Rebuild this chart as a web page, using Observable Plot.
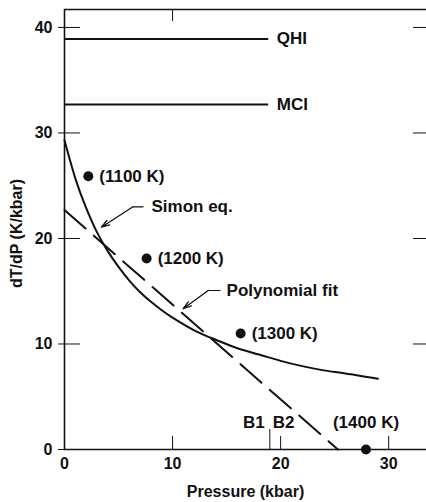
<!DOCTYPE html>
<html><head><meta charset="utf-8">
<script src="https://cdn.jsdelivr.net/npm/d3@7"></script>
<script src="https://cdn.jsdelivr.net/npm/@observablehq/plot@0.6"></script>
<style>
html,body{margin:0;padding:0;background:#fff;}
#chart svg{display:block;}
</style></head><body><div id="chart"></div>
<script>
// ---- data ----
const xTicks = [0, 10, 20, 30];
const yTicks = [0, 10, 20, 30, 40];
const xMax = 33.5;
const yMax = 41.7;

// solid curve (pressure kbar, dT/dP K/kbar)
const polyP = [0, 1, 2, 3, 4, 5, 6, 7, 8, 9, 10, 12, 14, 16, 18, 20, 22, 24, 26, 29];
const polyT = [29.3, 25.7, 22.9, 20.6, 18.8, 17.3, 16.0, 14.9, 14.0, 13.2, 12.5, 11.3, 10.4, 9.6, 9.0, 8.4, 7.9, 7.5, 7.2, 6.7];

// dashed straight line
const simonP = [0, 25.3];
const simonT = [22.7, 0];

// measured points
const pointP = [2.2, 7.6, 16.3, 27.9];
const pointT = [25.9, 18.1, 11.0, 0];
const pointLabels = ["(1100 K)", "(1200 K)", "(1300 K)", "(1400 K)"];

// reference lines
const refNames = ["QHI", "MCI"];
const refT = [38.9, 32.7];
const refEndP = 18.9;

// B1 / B2 markers
const bNames = ["B1", "B2"];
const bP = [19, 20];

// annotations
const simonLabel = "Simon eq.";
const simonLabelAt = [8.05, 23.0];
const simonLeader = [[7.27, 23.0], [6.34, 23.0]];
const simonTip = [3.41, 21.07];

const polyLabel = "Polynomial fit";
const polyLabelAt = [15.0, 15.07];
const polyLeader = [[14.39, 15.07], [13.3, 15.07]];
const polyTip = [10.98, 13.34];

// ---- build ----
const W = 426, H = 502;
const mL = 64, mR = 0, mT = 9, mB = 53;
const pw = W - mL - mR, ph = H - mT - mB;
const ink = "#111";
const font = "'Liberation Sans', Arial, Helvetica, sans-serif";

const poly = polyP.map((p, i) => ({p, t: polyT[i]}));
const simon = simonP.map((p, i) => ({p, t: simonT[i]}));
const pts = pointP.map((p, i) => ({p, t: pointT[i], label: pointLabels[i]}));
const refs = refNames.map((n, i) => ({n, t: refT[i]}));

const annoText = {fill: ink, fontSize: 17, fontWeight: "bold", textAnchor: "start"};

const chart = Plot.plot({
  width: W, height: H,
  marginLeft: mL, marginRight: mR, marginTop: mT, marginBottom: mB,
  x: {domain: [0, xMax]},
  y: {domain: [0, yMax]},
  style: {fontFamily: font, fontSize: "16px", fontWeight: "bold", color: ink, background: "#fff", overflow: "visible"},
  marks: [
    // frame: left, bottom, top
    Plot.ruleX([0], {stroke: ink, strokeWidth: 1.6}),
    Plot.ruleY([0], {stroke: ink, strokeWidth: 1.6}),
    Plot.ruleY([yMax], {stroke: ink, strokeWidth: 1.3}),
    // inward ticks
    Plot.tickX(xTicks.slice(1), {stroke: ink, strokeWidth: 1, insetTop: ph - 13}),
    Plot.tickX([bP[0]], {stroke: ink, strokeWidth: 1, insetTop: ph - 20}),
    Plot.tickX([xTicks[1]], {stroke: ink, strokeWidth: 1, insetBottom: ph - 12}),
    Plot.tickY(yTicks.slice(1), {stroke: ink, strokeWidth: 1, insetRight: pw - 16}),
    Plot.tickY(yTicks.slice(1), {stroke: ink, strokeWidth: 1, insetLeft: pw - 13}),
    // axes
    Plot.axisX(xTicks, {tickSize: 0, tickPadding: 8, label: null, fontSize: 16, fontWeight: "bold"}),
    Plot.axisY(yTicks, {tickSize: 6, tickPadding: 6, label: null, fontSize: 16, fontWeight: "bold", strokeWidth: 1}),
    // axis titles
    Plot.text(["Pressure (kbar)"], {frameAnchor: "bottom", dy: 42, textAnchor: "middle", lineAnchor: "middle", fill: ink, fontSize: 16, fontWeight: "bold", letterSpacing: "0.5px"}),
    Plot.text(["dT/dP (K/kbar)"], {frameAnchor: "left", rotate: -90, dx: -48, dy: 4, textAnchor: "middle", lineAnchor: "middle", fill: ink, fontSize: 16, fontWeight: "bold", letterSpacing: "0.5px"}),
    // reference horizontal lines
    Plot.ruleY(refs, {y: "t", x1: 0, x2: refEndP, stroke: ink, strokeWidth: 2}),
    Plot.text(refs, {x: refEndP, y: "t", text: "n", dx: 8, ...annoText, letterSpacing: "2.5px"}),
    // curves
    Plot.line(poly, {x: "p", y: "t", curve: "natural", stroke: ink, strokeWidth: 2}),
    Plot.line(simon, {x: "p", y: "t", stroke: ink, strokeWidth: 2, strokeDasharray: "28,11"}),
    // points
    Plot.dot(pts, {x: "p", y: "t", r: 5, fill: ink, stroke: "none"}),
    Plot.text(pts.slice(0, 3), {x: "p", y: "t", text: "label", dx: 11, ...annoText, letterSpacing: "2.3px"}),
    Plot.text(pts.slice(3), {x: "p", y: "t", text: "label", dy: -27, ...annoText, textAnchor: "middle", letterSpacing: "2.3px"}),
    // B1 B2
    Plot.text([bNames[0]], {x: bP[0], y: 0, dy: -27, dx: -5, ...annoText, textAnchor: "end", letterSpacing: "0.5px"}),
    Plot.text([bNames[1]], {x: bP[1], y: 0, dy: -27, dx: 3, ...annoText, textAnchor: "middle", letterSpacing: "0.5px"}),
    // annotations
    Plot.text([simonLabel], {x: simonLabelAt[0], y: simonLabelAt[1], ...annoText, letterSpacing: "1.6px"}),
    Plot.line(simonLeader, {x: d => d[0], y: d => d[1], stroke: ink, strokeWidth: 1.2}),
    Plot.arrow([0], {x1: simonLeader[1][0], y1: simonLeader[1][1], x2: simonTip[0], y2: simonTip[1], stroke: ink, strokeWidth: 1.3, headLength: 10, headAngle: 35}),
    Plot.text([polyLabel], {x: polyLabelAt[0], y: polyLabelAt[1], ...annoText, letterSpacing: "1.5px"}),
    Plot.line(polyLeader, {x: d => d[0], y: d => d[1], stroke: ink, strokeWidth: 1.2}),
    Plot.arrow([0], {x1: polyLeader[1][0], y1: polyLeader[1][1], x2: polyTip[0], y2: polyTip[1], stroke: ink, strokeWidth: 1.3, headLength: 10, headAngle: 35})
  ]
});
document.getElementById("chart").appendChild(chart);
</script>
</body></html>
